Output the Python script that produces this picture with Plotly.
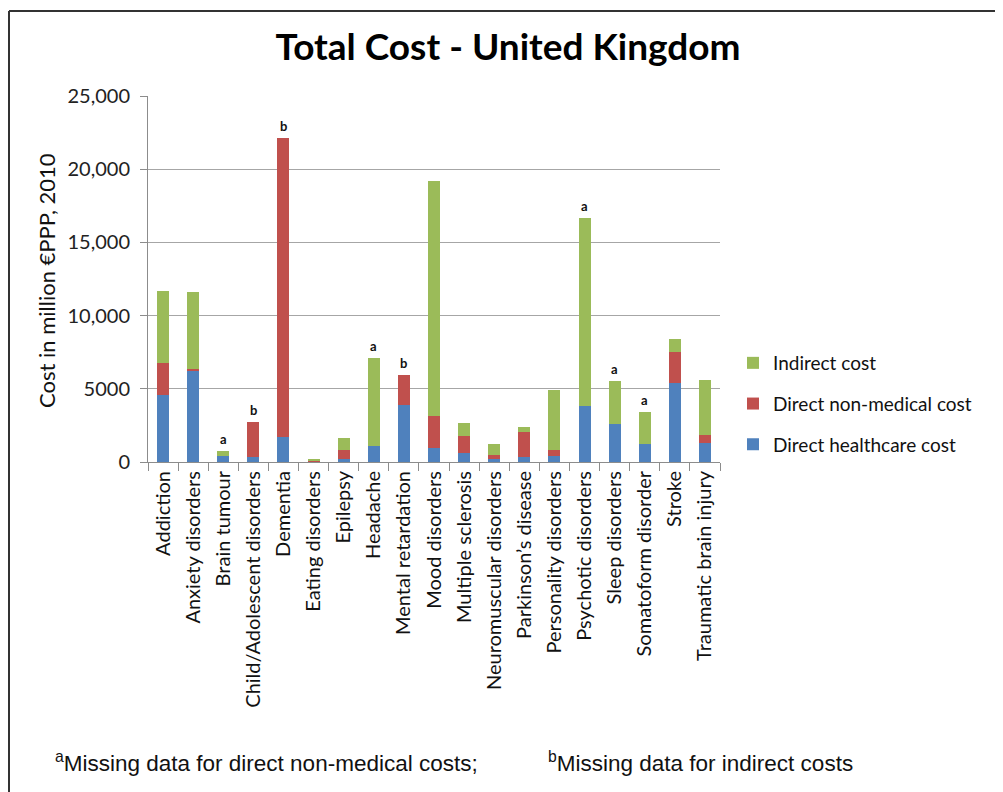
import plotly.graph_objects as go

categories = ["Addiction", "Anxiety disorders", "Brain tumour", "Child/Adolescent disorders",
              "Dementia", "Eating disorders", "Epilepsy", "Headache", "Mental retardation",
              "Mood disorders", "Multiple sclerosis", "Neuromuscular disorders",
              "Parkinson’s disease", "Personality disorders", "Psychotic disorders",
              "Sleep disorders", "Somatoform disorder", "Stroke", "Traumatic brain injury"]

direct_healthcare = [4610, 6230, 380, 310, 1680, 50, 230, 1110, 3890, 960, 590, 230, 310, 380, 3800, 2590, 1250, 5390, 1300]
direct_nonmedical = [2120, 120, 0, 2420, 20480, 60, 610, 0, 2020, 2200, 1160, 220, 1750, 460, 0, 0, 0, 2140, 540]
indirect = [4960, 5280, 390, 0, 0, 40, 770, 5990, 0, 16060, 910, 780, 300, 4090, 12850, 2960, 2180, 890, 3770]
notes = ["", "", "a", "b", "b", "", "", "a", "b", "", "", "", "", "", "a", "a", "a", "", ""]

y_tickvals = [0, 5000, 10000, 15000, 20000, 25000]
y_ticktext = ["0", "5000", "10,000", "15,000", "20,000", "25,000"]

series = [
    ("Direct healthcare cost", direct_healthcare, "#4F81BD", 3),
    ("Direct non-medical cost", direct_nonmedical, "#C0504D", 2),
    ("Indirect cost", indirect, "#9BBB59", 1),
]

W, H = 1003, 792
OFF = 8  # page offset of the plot div
L, R, T, B = 148 - OFF, 720 - OFF, 96 - OFF, 462 - OFF
def px(X):
    return (X - OFF - L) / (R - L)
def py(Y):
    return (B - (Y - OFF)) / (B - T)

FONT = "Lato, Calibri, sans-serif"

fig = go.Figure()
for i, (name, vals, col, rank) in enumerate(series):
    fig.add_trace(go.Bar(x=categories, y=vals, name=name, marker_color=col,
                         marker_line_width=0, legendgroup=f"g{i}", legendrank=rank))

totals = [a + b + c for a, b, c in zip(direct_healthcare, direct_nonmedical, indirect)]
annotations = []
for cat, tot, n in zip(categories, totals, notes):
    if n:
        annotations.append(dict(x=cat, y=tot, xref="x", yref="y", text=f"<b>{n}</b>",
                                showarrow=False, yanchor="bottom", yshift=2,
                                font=dict(family=FONT, size=13, color="#111")))

annotations.append(dict(x=px(46), y=py(281), xref="paper", yref="paper",
                        text="Cost in million €PPP, 2010", textangle=-90, showarrow=False,
                        xanchor="center", yanchor="middle",
                        font=dict(family=FONT, size=22, color="#111")))
annotations.append(dict(x=px(53), y=py(762), xref="paper", yref="paper",
                        text="<sup>a</sup>Missing data for direct non-medical costs;",
                        showarrow=False, xanchor="left", yanchor="middle",
                        font=dict(family="Liberation Sans, Arial, sans-serif", size=22.5, color="#111")))
annotations.append(dict(x=px(546), y=py(762), xref="paper", yref="paper",
                        text="<sup>b</sup>Missing data for indirect costs",
                        showarrow=False, xanchor="left", yanchor="middle",
                        font=dict(family="Liberation Sans, Arial, sans-serif", size=22.5, color="#111")))

shapes = [
    dict(type="line", xref="paper", yref="paper", x0=px(9), x1=px(1020), y0=py(11), y1=py(11),
         line=dict(color="#333", width=2)),
    dict(type="line", xref="paper", yref="paper", x0=px(9), x1=px(9), y0=py(11), y1=py(820),
         line=dict(color="#333", width=2)),
]

fig.update_layout(
    width=W, height=H,
    margin=dict(l=L, r=W - R, t=T, b=H - B),
    paper_bgcolor="white", plot_bgcolor="white",
    barmode="stack", bargap=0.6,
    title=dict(text="<b>Total Cost - United Kingdom</b>", x=(508 - OFF) / W, xanchor="center",
               y=1 - (47 - OFF) / H, yanchor="middle",
               font=dict(family=FONT, size=37, color="#000")),
    showlegend=True,
    legend=dict(x=px(733), y=py(344), xanchor="left", yanchor="top",
                traceorder="grouped", tracegroupgap=13,
                font=dict(family=FONT, size=19, color="#111"),
                bgcolor="rgba(0,0,0,0)"),
    annotations=annotations,
    shapes=shapes,
    xaxis=dict(type="category", showline=True, linecolor="#8C8C8C", linewidth=1,
               ticks="outside", tickson="boundaries", ticklen=8, tickcolor="#8C8C8C",
               tickangle=-90, tickfont=dict(family=FONT, size=20, color="#111"),
               showgrid=False),
    yaxis=dict(range=[0, 25000], tickvals=y_tickvals, ticktext=y_ticktext,
               showline=True, linecolor="#8C8C8C", linewidth=1,
               ticks="outside", ticklen=7, tickcolor="#8C8C8C",
               ticklabelstandoff=6,
               showgrid=True, gridcolor="#A6A6A6", gridwidth=1,
               tickfont=dict(family=FONT, size=20, color="#222"), zeroline=False),
)

fig.write_html("out.html")
